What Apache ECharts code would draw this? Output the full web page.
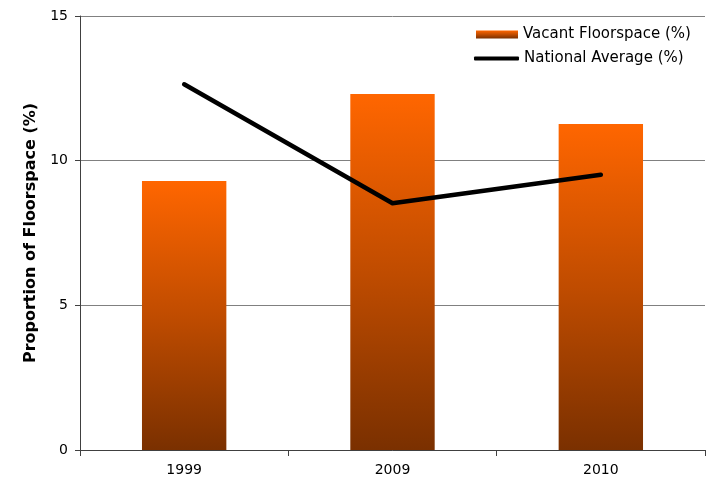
<!DOCTYPE html>
<html>
<head>
<meta charset="utf-8">
<script src="https://cdn.jsdelivr.net/npm/echarts@6/dist/echarts.min.js"></script>
<style>
  html, body { margin: 0; padding: 0; background: #fff; }
  #chart { width: 707px; height: 481px; }
</style>
</head>
<body>
<div id="chart"></div>
<script>
// Vacant floorspace vs national average, by year
const years = ['1999', '2009', '2010'];
const vacantFloorspace = [9.3, 12.3, 11.27];
const nationalAverage = [12.64, 8.53, 9.51];
const yTicks = [0, 5, 10, 15];

const font = 'Tahoma, "DejaVu Sans", Verdana, sans-serif';

const barGradient = new echarts.graphic.LinearGradient(0, 0, 0, 1, [
  { offset: 0, color: '#FF6600' },
  { offset: 0.5, color: '#C04C00' },
  { offset: 1, color: '#7A3000' }
]);

const legendText = { fontFamily: font, fontSize: 15, color: '#000' };

const chart = echarts.init(document.getElementById('chart'), null, { renderer: 'canvas' });

chart.setOption({
  animation: false,
  backgroundColor: '#ffffff',
  grid: { left: 80, right: 2, top: 16, bottom: 31, containLabel: false },
  // one legend per entry so each keeps its own icon size
  legend: [
    {
      left: 471,
      top: 22,
      itemWidth: 42,
      itemHeight: 8,
      itemGap: 0,
      textStyle: legendText,
      data: [{ name: 'Vacant Floorspace (%)', icon: 'rect' }]
    },
    {
      left: 469,
      top: 46,
      itemWidth: 45,
      itemHeight: 4,
      itemGap: 0,
      textStyle: legendText,
      data: [{ name: 'National Average (%)', icon: 'roundRect' }]
    }
  ],
  xAxis: {
    type: 'category',
    data: years,
    boundaryGap: true,
    axisLine: { lineStyle: { color: '#404040', width: 1 } },
    axisTick: { show: true, length: 6, inside: false, lineStyle: { color: '#404040' } },
    axisLabel: { fontFamily: font, fontSize: 14, color: '#000', margin: 13 },
    splitLine: { show: false }
  },
  yAxis: {
    type: 'value',
    min: yTicks[0],
    max: yTicks[yTicks.length - 1],
    interval: 5,
    name: 'Proportion of Floorspace (%)',
    nameLocation: 'middle',
    nameGap: 40,
    nameRotate: 90,
    nameTextStyle: { fontFamily: font, fontSize: 16, fontWeight: 'bold', color: '#000' },
    axisLine: { show: true, lineStyle: { color: '#404040', width: 1 } },
    axisTick: { show: true, length: 5, lineStyle: { color: '#404040' } },
    axisLabel: { fontFamily: font, fontSize: 14, color: '#000', margin: 12 },
    splitLine: { show: true, lineStyle: { color: '#808080', width: 1 } }
  },
  series: [
    {
      name: 'Vacant Floorspace (%)',
      type: 'bar',
      data: vacantFloorspace,
      barWidth: '40.5%',
      itemStyle: { color: barGradient },
      z: 2
    },
    {
      name: 'National Average (%)',
      type: 'line',
      data: nationalAverage,
      symbol: 'none',
      lineStyle: { color: '#000', width: 4.5, cap: 'round', join: 'round' },
      itemStyle: { color: '#000' },
      z: 3
    }
  ]
});
</script>
</body>
</html>
